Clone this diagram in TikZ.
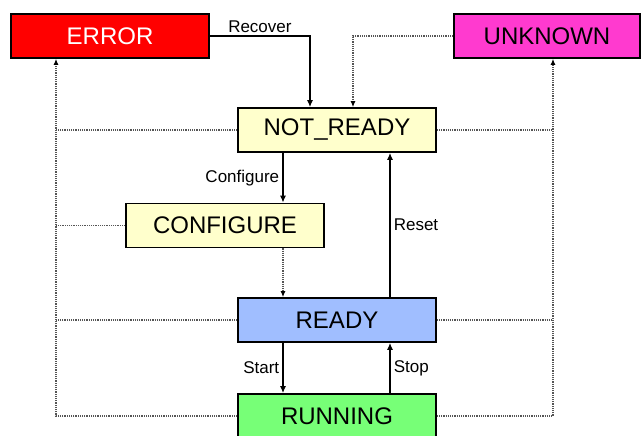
\documentclass[tikz,border=0pt]{standalone}
\usepackage{fontspec}
\setmainfont{Liberation Sans}
\usetikzlibrary{arrows.meta}

\definecolor{Err}{HTML}{FF0000}
\definecolor{Unk}{HTML}{FF3ACF}
\definecolor{Idle}{HTML}{FFFFCC}
\definecolor{Rdy}{HTML}{A0BEFF}
\definecolor{Run}{HTML}{77FF77}
\definecolor{Bus}{HTML}{555555}

\tikzset{
  state/.style={draw, line width=1.6pt, minimum width=198pt, minimum height=44pt,
    inner sep=0pt, font=\fontsize{24}{28}\selectfont},
  trans/.style={line width=1.6pt, -{Latex[length=7pt,width=6pt]}},
  bus/.style={line width=1.2pt, densely dotted, color=Bus},
  busarrow/.style={bus, -{Latex[length=6pt,width=5pt,black]}},
  lbl/.style={font=\fontsize{17}{20}\selectfont, inner sep=3pt}
}

\begin{document}
\begin{tikzpicture}[x=1pt, y=-1pt]

 \useasboundingbox (0,0) rectangle (643,436);

 %%%%%%%%%% Points pour travailler %%%%%%%%%%
 \coordinate (lbus) at (56,0);
 \coordinate (rbus) at (553,0);
 \coordinate (lcol) at (283,0);
 \coordinate (rcol) at (390,0);

 %%%%%%%%%% States %%%%%%%%%%
 \node[state, fill=Err, text=white] (error) at (110,36) {ERROR};
 \node[state, fill=Unk, minimum width=186pt] (unknown) at (547,36) {UNKNOWN};
 \node[state, fill=Idle] (notready) at (337,130) {NOT\_READY};
 \node[state, fill=Idle] (configure) at (225,225.5) {CONFIGURE};
 \node[state, fill=Rdy] (ready) at (337,320) {READY};
 \node[state, fill=Run] (running) at (337,416) {RUNNING};

 %%%%%%%%%%% Transitions %%%%%%%%%%%
 \draw[trans] (error.east) -| ([xshift=-27pt]notready.north) node[pos=0.25, above, lbl] {Recover};
 \draw[trans] (lcol |- notready.south) -- (lcol |- configure.north) node[midway, left, lbl] {Configure};
 \draw[trans] (rcol |- ready.north) -- (rcol |- notready.south) node[midway, right, lbl] {Reset};
 \draw[trans] (lcol |- ready.south) -- (lcol |- running.north) node[midway, left, lbl] {Start};
 \draw[trans] (rcol |- running.north) -- (rcol |- ready.south) node[midway, right, lbl] {Stop};

 % Dotted ones
 \draw[busarrow] (lcol |- configure.south) -- (lcol |- ready.north);
 \draw[busarrow] (unknown.west) -| ([xshift=16pt]notready.north);

 %%%%%%%%%%% Error bus %%%%%%%%%%%
 \draw[busarrow] (running.west) -| (lbus |- error.south);
 \draw[bus] (notready.west) -- (notready.west -| lbus);
 \draw[bus] (configure.west) -- (configure.west -| lbus);
 \draw[bus] (ready.west) -- (ready.west -| lbus);

 %%%%%%%%%%% Unknown bus %%%%%%%%%%%
 \draw[busarrow] (running.east) -| (rbus |- unknown.south);
 \draw[bus] (notready.east) -- (notready.east -| rbus);
 \draw[bus] (ready.east) -- (ready.east -| rbus);

\end{tikzpicture}
\end{document}
